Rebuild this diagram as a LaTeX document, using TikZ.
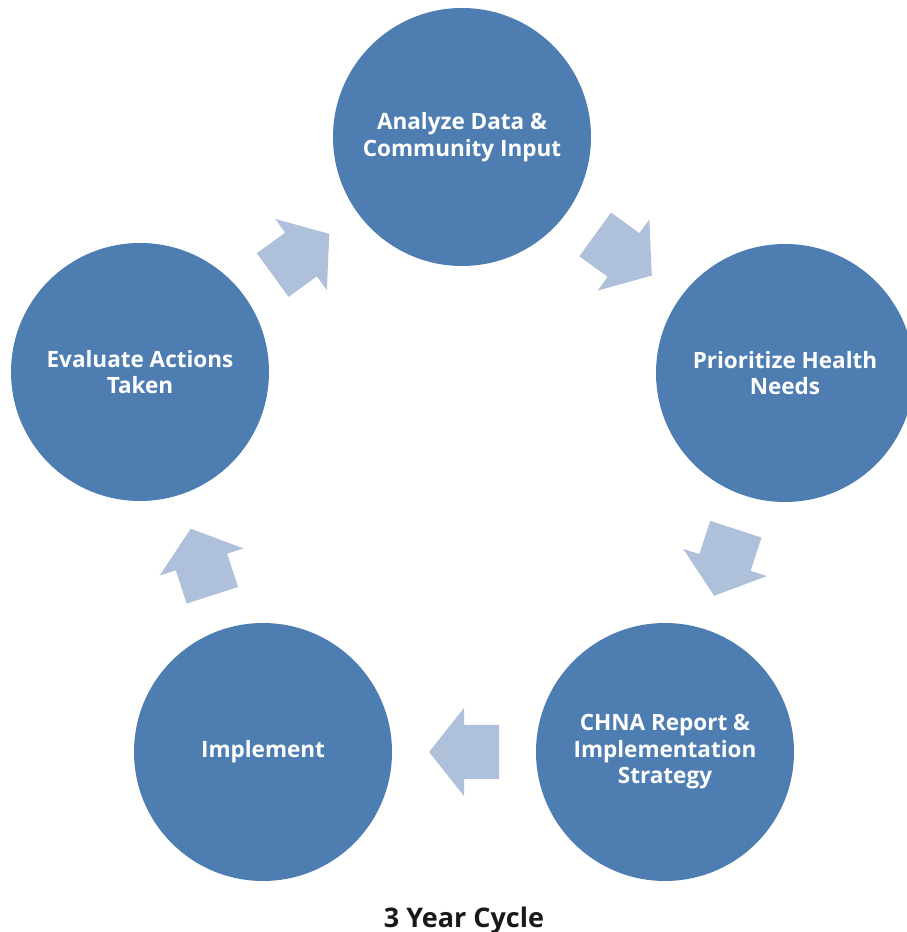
\documentclass[tikz,border=0pt]{standalone}
\usepackage{fontspec}
\setmainfont{Open Sans}
\definecolor{circleblue}{HTML}{4E7DB2}
\definecolor{arrowblue}{HTML}{AFC0DB}
\usetikzlibrary{calc}
\def\rad{129}

\tikzset{
  step circle/.style={circle, fill=circleblue, minimum size=2*\rad pt, inner sep=0pt,
    text=white, align=center, font=\fontsize{22.5}{26.5}\selectfont\bfseries},
  pics/cyclearrow/.style={code={
    \fill[arrowblue] (-35,-27) -- (0,-27) -- (0,-44) -- (35,0) -- (0,44) -- (0,27) -- (-35,27) -- cycle;
  }}
}

\begin{document}
\begin{tikzpicture}[x=1pt, y=1pt]

\useasboundingbox (0,0) rectangle (907,932);

% circles

\node[step circle] (analyze) at (462,795) {Analyze Data \&\\Community Input};
\node[step circle] (prioritize) at (785,559) {Prioritize Health\\Needs};
\node[step circle] (report) at (665,180) {CHNA Report \&\\Implementation\\Strategy};
\node[step circle] (implement) at (263,180) {Implement};
\node[step circle] (evaluate) at (140,560) {Evaluate Actions\\Taken};

% arrows between the circles

\pic[rotate=36] at ($(evaluate)!0.5!(analyze)$) {cyclearrow};
\pic[rotate=-36] at ($(analyze)!0.5!(prioritize)$) {cyclearrow};
\pic[rotate=-108] at ($(prioritize)!0.5!(report)$) {cyclearrow};
\pic[rotate=180] at ($(report)!0.5!(implement)$) {cyclearrow};
\pic[rotate=108] at ($(implement)!0.5!(evaluate)$) {cyclearrow};

% caption

\node[font=\fontsize{27}{30}\selectfont\bfseries, text=black!90] (cycle) at (464,12) {3 Year Cycle};

\end{tikzpicture}
\end{document}
